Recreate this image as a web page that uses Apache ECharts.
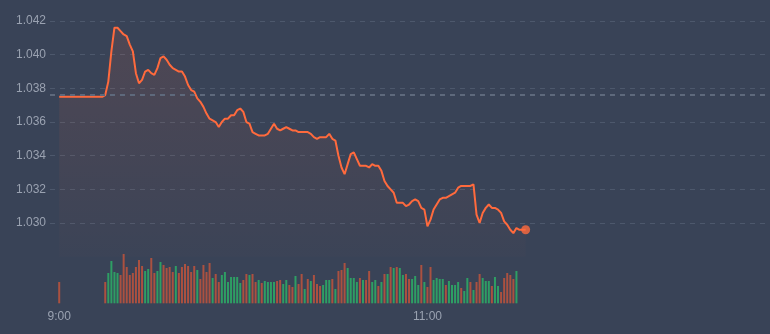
<!DOCTYPE html>
<html><head><meta charset="utf-8">
<script src="https://cdn.jsdelivr.net/npm/echarts@6/dist/echarts.min.js"></script>
<style>html,body{margin:0;padding:0;background:#394357;}#c{width:770px;height:334px;}</style>
</head><body><div id="c"></div>
<script>
// ---- data ----
const tickLabels = ['9:00', '11:00'];
const yTicks = [1.030, 1.032, 1.034, 1.036, 1.038, 1.040, 1.042];
const preClose = 1.0376;
// one value per minute from 9:00
const prices = [
1.0375,1.0375,1.0375,1.0375,1.0375,1.0375,1.0375,1.0375,1.0375,1.0375,1.0375,1.0375,1.0375,1.0375,1.0375,
1.0376,1.0384,1.0402,1.0416,1.0416,1.0414,1.0412,1.0411,1.0406,1.0402,
1.0389,1.0383,1.0385,1.0390,1.0391,1.0389,1.0388,1.0392,1.0398,1.0399,
1.0397,1.0394,1.0392,1.0391,1.0390,1.0390,1.0387,1.0382,1.0379,1.0378,
1.0374,1.0372,1.0369,1.0365,1.0362,1.0361,1.0360,1.0357,1.0360,1.0362,
1.0362,1.0364,1.0364,1.0367,1.0368,1.0366,1.0360,1.0359,1.0354,1.0353,
1.0352,1.0352,1.0352,1.0353,1.0356,1.0359,1.0356,1.0355,1.0356,1.0357,
1.0356,1.0355,1.0355,1.0354,1.0354,1.0354,1.0354,1.0353,1.0351,1.0350,
1.0351,1.0351,1.0351,1.0353,1.0350,1.0349,1.0340,1.0333,1.0329,1.0335,
1.0341,1.0342,1.0338,1.0334,1.0334,1.0334,1.0333,1.0335,1.0334,1.0334,
1.0331,1.0325,1.0322,1.0320,1.0318,1.0312,1.0312,1.0312,1.0310,1.0311,
1.0313,1.0314,1.0313,1.0309,1.0308,1.0298,1.0302,1.0308,1.0311,1.0314,
1.0315,1.0315,1.0316,1.0317,1.0318,1.0321,1.0322,1.0322,1.0322,1.0322,
1.0323,1.0305,1.0300,1.0306,1.0309,1.0311,1.0309,1.0309,1.0308,1.0306,
1.0301,1.0299,1.0296,1.0294,1.0297,1.0296,1.0296,1.0296
];
const volumes = [
2130,null,null,null,null,null,null,null,null,null,null,null,null,null,null,
2130,3030,4230,3130,3030,2830,4930,3630,2830,3030,
3630,4330,3730,3230,3430,4530,3030,3230,4130,3830,
3530,3630,3130,3730,3030,3630,3930,3730,3130,3730,
3330,2430,3830,3130,4030,2530,2930,2130,2830,3130,
2130,2630,2630,2630,2030,2330,2930,2830,2930,2130,
2330,2030,2230,2130,2130,2130,2230,2330,1930,2330,
1830,1630,2730,1930,2930,1430,2430,2230,2830,1930,
1730,1830,2330,2330,2430,1430,3230,3330,4030,3530,
2530,2530,2130,2530,2330,2330,3230,2130,2330,1730,
2130,2930,2930,3630,3530,3630,3530,2830,2930,2430,
2430,2730,1830,3830,2130,1630,3630,2330,2530,2430,
2430,1830,2230,1830,1830,2130,1530,1230,2530,2130,
1330,2130,2930,2530,2230,2230,1730,2630,1730,1130,
2530,3030,2830,2430,3230,null,null,null
];
const volDir = [
'd','','','','','','','','','','','','','','',
'd','u','u','u','u','d','d','d','d','d',
'd','d','d','u','u','d','d','u','u','d',
'd','d','d','u','d','d','d','d','d','d',
'u','d','d','d','d','u','d','d','u','u',
'u','u','u','u','u','d','d','u','d','d',
'u','d','u','u','u','u','d','d','u','u',
'd','d','u','d','d','u','d','u','d','d',
'd','u','u','u','d','u','d','d','d','u',
'u','u','u','d','u','d','d','u','u','d',
'u','d','u','d','u','d','u','u','d','d',
'u','u','u','d','u','d','d','u','u','u',
'u','d','u','u','u','u','d','u','u','d',
'u','d','d','u','u','u','d','u','u','d',
'd','d','d','d','u','','',''
];

// ---- build ----
const UP = '#2e9e64', DOWN = '#ab5140';
const lead = 3, total = 234;
const times = [];
for (let i = 0; i < total; i++) {
  const t = 9 * 60 - lead + i;
  times.push(Math.floor(t / 60) + ':' + String(t % 60).padStart(2, '0'));
}
const pad = Array(lead).fill('-');
const priceData = pad.concat(prices);
const volData = pad.concat(volumes.map((v, i) => v == null ? '-' : {
  value: v, itemStyle: { color: volDir[i] === 'u' ? UP : DOWN }
}));
const lastIdx = lead + prices.length - 1;
const dotData = priceData.map((v, i) => i === lastIdx ? v : '-');

const labelColor = '#9aa2b1';
const splitColor = '#4d586c';
const chart = echarts.init(document.getElementById('c'), null, { renderer: 'canvas' });
chart.setOption({
  animation: false,
  backgroundColor: '#394357',
  textStyle: { fontFamily: 'Liberation Sans, Arial, sans-serif' },
  grid: [
    { left: 50, right: 5, top: 21, height: 235.7 },
    { left: 50, right: 5, top: 250, height: 53.3 }
  ],
  xAxis: [
    { type: 'category', gridIndex: 0, data: times, boundaryGap: false,
      axisLine: { show: false }, axisTick: { show: false }, axisLabel: { show: false }, splitLine: { show: false } },
    { type: 'category', gridIndex: 1, data: times, boundaryGap: false,
      axisLine: { show: false }, axisTick: { show: false }, splitLine: { show: false },
      axisLabel: { color: labelColor, fontSize: 12, margin: 7,
        interval: (i, v) => tickLabels.indexOf(v) >= 0 } }
  ],
  yAxis: [
    { type: 'value', gridIndex: 0, min: 1.028, max: 1.042, interval: 0.002,
      axisLine: { show: false }, axisTick: { show: false },
      axisLabel: { color: labelColor, fontSize: 12, margin: 4,
        formatter: v => yTicks.some(t => Math.abs(t - v) < 1e-6) ? v.toFixed(3) : '' },
      splitLine: { lineStyle: { color: ['rgba(0,0,0,0)', splitColor, splitColor, splitColor, splitColor, splitColor, splitColor, splitColor], type: [5, 5], width: 1 } } },
    { type: 'value', gridIndex: 1, min: 0, max: 5330, show: false, splitLine: { show: false } }
  ],
  series: [
    { type: 'bar', xAxisIndex: 1, yAxisIndex: 1, data: volData, barWidth: 2 },
    { type: 'line', xAxisIndex: 0, yAxisIndex: 0, data: priceData, symbol: 'none',
      lineStyle: { color: '#ff6a3d', width: 2 },
      areaStyle: { color: new echarts.graphic.LinearGradient(0, 0, 0, 1, [
        { offset: 0, color: 'rgba(255,106,61,0.16)' },
        { offset: 1, color: 'rgba(255,106,61,0.02)' }
      ]) },
      markLine: { silent: true, symbol: 'none', precision: 4, label: { show: false },
        lineStyle: { color: '#5e697c', type: [5, 5], width: 2 },
        data: [{ yAxis: preClose }] } },
    { type: 'scatter', xAxisIndex: 0, yAxisIndex: 0, data: dotData, symbolSize: 9,
      itemStyle: { color: '#ff6a3d' } }
  ]
});
</script></body></html>
